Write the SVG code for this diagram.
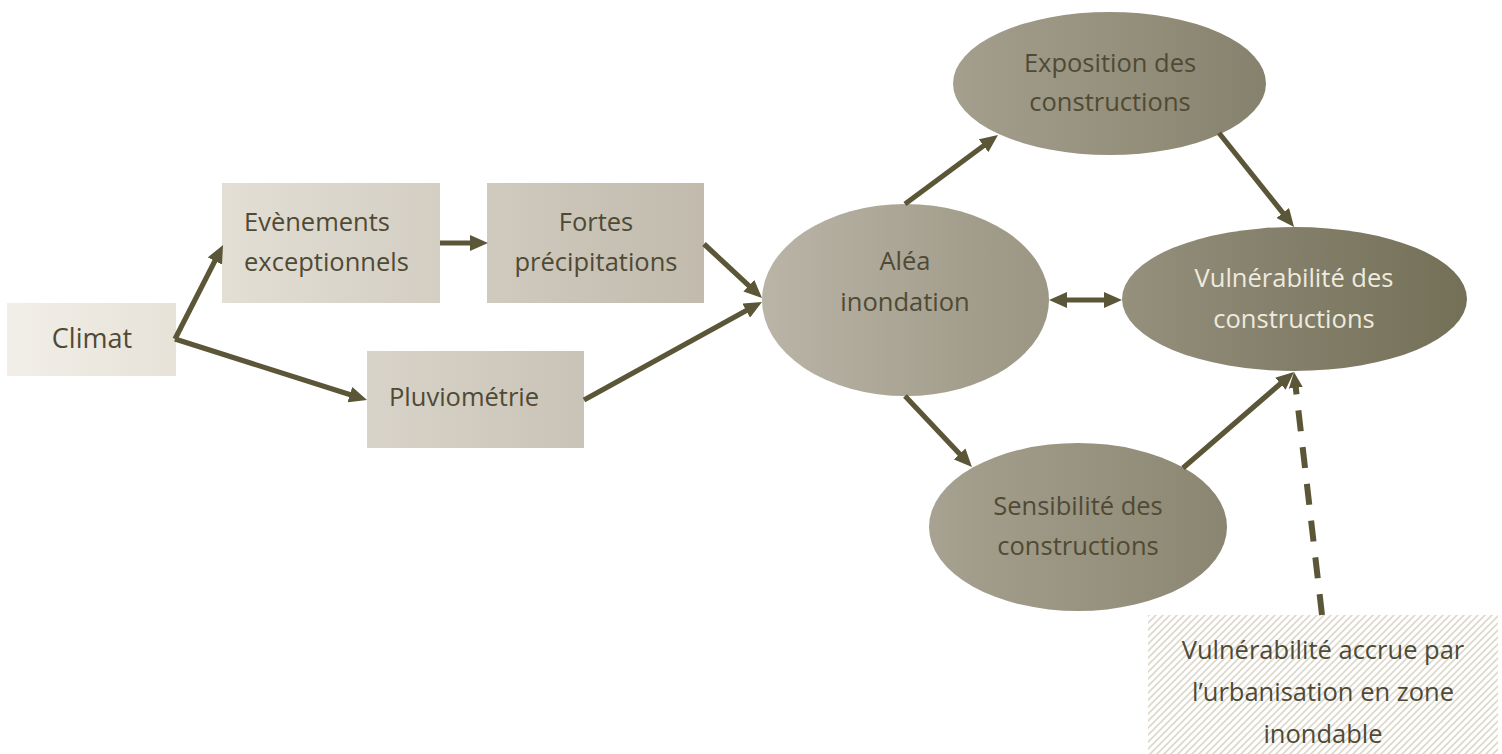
<svg xmlns="http://www.w3.org/2000/svg" width="1502" height="754" viewBox="0 0 1502 754">
  <defs>
    <!-- one left-to-right tint shared by every node -->
    <linearGradient id="tint" gradientUnits="userSpaceOnUse" x1="0" y1="0" x2="1502" y2="0">
      <stop offset="0" stop-color="#f2efe9"/>
      <stop offset="0.12" stop-color="#e6e2d8"/>
      <stop offset="0.25" stop-color="#d8d3c8"/>
      <stop offset="0.47" stop-color="#c1baad"/>
      <stop offset="0.51" stop-color="#b9b4a6"/>
      <stop offset="0.65" stop-color="#a29d8b"/>
      <stop offset="0.75" stop-color="#95907c"/>
      <stop offset="0.85" stop-color="#84806b"/>
      <stop offset="1" stop-color="#716d54"/>
    </linearGradient>
    <pattern id="hatch" patternUnits="userSpaceOnUse" width="7" height="7">
      <rect width="7" height="7" fill="#ffffff"/>
      <path d="M-1,8 L8,-1 M-1,1 L1,-1 M6,8 L8,6" stroke="#ddd8cb" stroke-width="1.6"/>
    </pattern>
    <marker id="head" viewBox="0 0 18 16" refX="8" refY="8" markerWidth="18" markerHeight="16" markerUnits="userSpaceOnUse" orient="auto-start-reverse">
      <path d="M0,0 L18,8 L0,16 z" fill="#5b5637"/>
    </marker>
    <marker id="headSmall" viewBox="0 0 16 14" refX="6" refY="7" markerWidth="16" markerHeight="14" markerUnits="userSpaceOnUse" orient="auto">
      <path d="M0,0 L16,7 L0,14 z" fill="#5b5637"/>
    </marker>
    <style>
      .node { fill: url(#tint); }
      .lbl { font-family: "Open Sans", "Liberation Sans", sans-serif; font-size: 25.5px; fill: #4f4a35; }
      .mid { text-anchor: middle; }
      .light { fill: #eeeadf; }
      .link { fill: none; stroke: #5b5637; stroke-width: 5.2; marker-end: url(#head); }
      .dash { fill: none; stroke: #5b5637; stroke-width: 6; stroke-dasharray: 21 16; marker-end: url(#headSmall); }
    </style>
  </defs>

  <rect width="1502" height="754" fill="#ffffff"/>

  <g id="climat">
    <rect class="node" x="7" y="303" width="169" height="73"/>
    <text class="lbl mid" x="92" y="348" style="font-size:27px">Climat</text>
  </g>

  <g id="evenements">
    <rect class="node" x="222" y="183" width="218" height="120"/>
    <text class="lbl" x="244" y="231">Evènements</text>
    <text class="lbl" x="244" y="271">exceptionnels</text>
  </g>

  <g id="fortes">
    <rect class="node" x="487" y="183" width="217" height="120"/>
    <text class="lbl mid" x="596" y="231">Fortes</text>
    <text class="lbl mid" x="596" y="271">précipitations</text>
  </g>

  <g id="pluviometrie">
    <rect class="node" x="367" y="351" width="217" height="97"/>
    <text class="lbl" x="389" y="406">Pluviométrie</text>
  </g>

  <g id="alea">
    <ellipse class="node" cx="905.5" cy="300" rx="143.5" ry="96"/>
    <text class="lbl mid" x="905" y="270">Aléa</text>
    <text class="lbl mid" x="905" y="311">inondation</text>
  </g>

  <g id="exposition">
    <ellipse class="node" cx="1109.5" cy="83.5" rx="156.5" ry="71.5"/>
    <text class="lbl mid" x="1110" y="72">Exposition des</text>
    <text class="lbl mid" x="1110" y="111">constructions</text>
  </g>

  <g id="vulnerabilite">
    <ellipse class="node" cx="1294.5" cy="299" rx="172.5" ry="72"/>
    <text class="lbl mid light" x="1294" y="287">Vulnérabilité des</text>
    <text class="lbl mid light" x="1294" y="328">constructions</text>
  </g>

  <g id="sensibilite">
    <ellipse class="node" cx="1078" cy="527" rx="149" ry="84"/>
    <text class="lbl mid" x="1078" y="515">Sensibilité des</text>
    <text class="lbl mid" x="1078" y="555">constructions</text>
  </g>

  <g id="urbanisation">
    <rect x="1148" y="615" width="350" height="139" fill="url(#hatch)"/>
    <text class="lbl mid" x="1323" y="659">Vulnérabilité accrue par</text>
    <text class="lbl mid" x="1323" y="701">l’urbanisation en zone</text>
    <text class="lbl mid" x="1323" y="743">inondable</text>
  </g>

  <g id="connectors">
    <path class="link" d="M175,339 L218.5,253.9"/>
    <path class="link" d="M175,339 L357.5,397"/>
    <path class="link" d="M440,243 L478,243"/>
    <path class="link" d="M704,244 L754.7,291.2"/>
    <path class="link" d="M584,400 L753.2,306.8"/>
    <path class="link" d="M905,204 L990,141"/>
    <path class="link" d="M1219,133 L1287.8,219.2"/>
    <path class="link" d="M1059,300 L1112,300" style="marker-start:url(#head)"/>
    <path class="link" d="M905,396 L965.1,459.7"/>
    <path class="link" d="M1183,468 L1286.4,378.5"/>
    <path class="dash" d="M1322,615 L1295.1,381.9"/>
  </g>
</svg>
